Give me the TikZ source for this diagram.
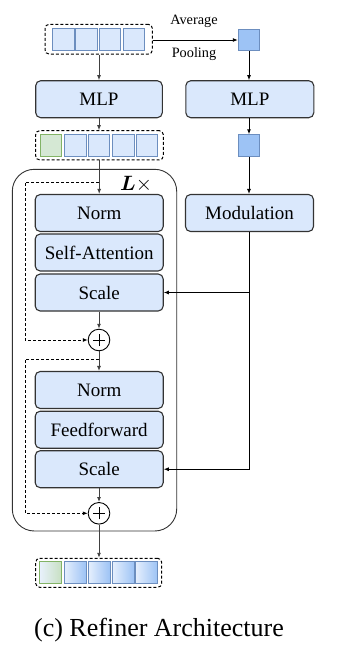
\documentclass[tikz,border=0pt]{standalone}
\usepackage{bm}
\usepackage{fontspec}
\setmainfont{Liberation Serif}
\usetikzlibrary{arrows.meta}
\definecolor{boxfill}{HTML}{DAE8FC}
\definecolor{cellblue}{HTML}{6C8EBF}
\definecolor{cellgreen}{HTML}{82B366}
\definecolor{greenfill}{HTML}{D5E8D4}
\definecolor{poolfill}{HTML}{9DC3F5}
\definecolor{edge}{HTML}{333333}
\begin{document}
\begin{tikzpicture}[x=1pt,y=-1pt,
  block/.style={draw=edge,line width=1.1pt,fill=boxfill,rounded corners=5pt,
    minimum width=128pt,minimum height=37pt,inner sep=0pt,
    font=\fontsize{19}{22}\selectfont},
  cell/.style={draw=cellblue,line width=0.9pt,fill=boxfill,minimum size=21.5pt,inner sep=0pt},
  gcell/.style={cell,draw=cellgreen,fill=greenfill},
  ocell/.style={cell,left color=boxfill!70!white,right color=poolfill},
  ogcell/.style={cell,draw=cellgreen,left color=boxfill!60!white,right color=greenfill!85!cellgreen},
  pooled/.style={cell,fill=poolfill},
  group/.style={draw=black,line width=1pt,dash pattern=on 3pt off 2pt,rounded corners=4pt,inner sep=0pt},
  flow/.style={line width=0.9pt,draw=black!75,-{Latex[length=5pt,width=4pt]}},
  rflow/.style={line width=0.9pt,draw=black,-{Latex[length=5pt,width=4pt]}},
  skip/.style={line width=0.9pt,draw=black,dash pattern=on 3pt off 2pt,-{Latex[length=5pt,width=4pt]}},
  adder/.style={circle,draw=black,line width=0.9pt,minimum size=21.6pt,inner sep=0pt},
  smalltext/.style={font=\fontsize{14.3}{16}\selectfont}]
\useasboundingbox (0,0) rectangle (342,654);

% repeated refiner block
\draw[draw=edge,line width=0.9pt,rounded corners=22pt] (12.3,169.3) rectangle (176.7,531);
\node (rep) at (136,184.5) {\fontsize{21}{24}\selectfont$\bm{L}\times$};

% input tokens
\node[group,minimum width=107.3pt,minimum height=29.7pt] (in) at (98.7,39.2) {};
\node[cell] (in1) at (63.3,39.5) {};
\node[cell] (in2) at (86.5,39.5) {};
\node[cell] (in3) at (110,39.5) {};
\node[cell] (in4) at (134,39.5) {};

% pooled token
\node[pooled] (p1) at (249,40) {};
\node[smalltext,anchor=base] (avg) at (194,24.5) {Average};
\node[smalltext,anchor=base] (pool) at (194,57) {Pooling};

% MLPs
\node[block,minimum width=126.6pt] (mlpl) at (99,99.2) {MLP};
\node[block] (mlpr) at (249.8,99.2) {MLP};

% embedded tokens
\node[group,minimum width=127.6pt,minimum height=29.3pt] (emb) at (99.5,145.3) {};
\node[gcell] (e1) at (50.8,145.5) {};
\node[cell] (e2) at (75.2,145.5) {};
\node[cell] (e3) at (98.8,145.5) {};
\node[cell] (e4) at (123.2,145.5) {};
\node[cell] (e5) at (146.8,145.5) {};
\node[pooled] (p2) at (249,145.5) {};

% attention sub-block
\node[block] (norm1) at (99.2,213) {Norm};
\node[block] (attn) at (99.2,252.5) {Self-Attention};
\node[block] (scale1) at (99.2,292.5) {Scale};
\node[adder] (add1) at (99,340) {};
\draw[line width=0.9pt] ([xshift=-6pt]add1.center) -- ([xshift=6pt]add1.center)
  ([yshift=-6pt]add1.center) -- ([yshift=6pt]add1.center);

% feedforward sub-block
\node[block] (norm2) at (99.2,390) {Norm};
\node[block] (ff) at (99.2,429.7) {Feedforward};
\node[block] (scale2) at (99.2,469.2) {Scale};
\node[adder] (add2) at (99,513.3) {};
\draw[line width=0.9pt] ([xshift=-6pt]add2.center) -- ([xshift=6pt]add2.center)
  ([yshift=-6pt]add2.center) -- ([yshift=6pt]add2.center);

% modulation
\node[block] (mod) at (249.5,213) {Modulation};

% output tokens
\node[group,minimum width=126pt,minimum height=29pt] (out) at (98.7,572.8) {};
\node[ogcell] (o1) at (50.2,572.2) {};
\node[ocell] (o2) at (75.2,572.2) {};
\node[ocell] (o3) at (99.2,572.2) {};
\node[ocell] (o4) at (123.4,572.2) {};
\node[ocell] (o5) at (146.5,572.2) {};

% caption
\node[anchor=base,font=\fontsize{26}{30}\selectfont] (cap) at (159,636.7) {(c) Refiner Architecture};

% main path
\draw[flow] (in.south -| mlpl.north) -- (mlpl.north);
\draw[flow] (mlpl.south) -- (mlpl.south |- emb.north);
\draw[flow] (emb.south -| norm1.north) -- (norm1.north);
\draw[flow] (scale1.south -| add1.north) -- (add1.north);
\draw[flow] (add1.south) -- (add1.south |- norm2.north);
\draw[flow] (scale2.south -| add2.north) -- (add2.north);
\draw[flow] (add2.south) -- (add2.south |- out.north);

% conditioning path
\draw[rflow] (in.east |- p1.west) -- (p1.west);
\draw[rflow] (p1.south) -- (p1.south |- mlpr.north);
\draw[rflow] (mlpr.south -| p2.north) -- (p2.north);
\draw[rflow] (p2.south) -- (p2.south |- mod.north);
\coordinate (tap) at (p2.south |- scale1.east);
\draw[rflow] (mod.south -| p2.south) |- (scale2.east);
\draw[rflow] (tap) -- (scale1.east);

% residual connections
\coordinate (r1) at (norm1.north |- 0,182.3);
\draw[skip] (r1) -- (25,182.3) |- (add1.west);
\coordinate (r2) at (add1.south |- 0,359.3);
\draw[skip] (r2) -- (25,359.3) |- (add2.west);
\end{tikzpicture}
\end{document}
